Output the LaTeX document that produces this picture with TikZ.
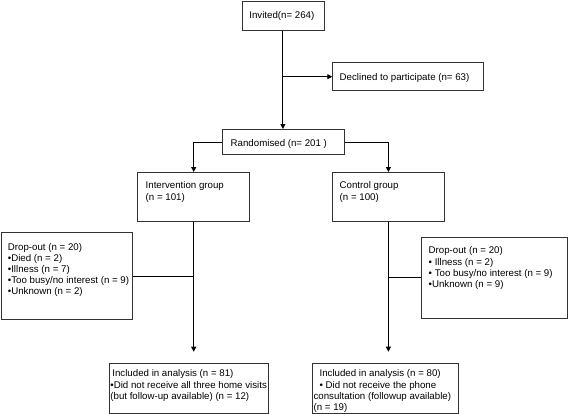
\documentclass[tikz,border=0pt]{standalone}
\usepackage{fontspec}
\setmainfont{Liberation Sans}
\usetikzlibrary{arrows.meta}

% box content: width, height, left pad, top pad, lines
\newcommand{\boxtxt}[5]{%
  \parbox[t][#2pt][t]{#1pt}{\vspace*{#4pt}\hspace*{#3pt}%
    \begin{tabular}[t]{@{}l@{}}#5\end{tabular}}}

\begin{document}
\begin{tikzpicture}[
  x=1pt, y=-1pt,
  % --- node styles ---
  box/.style={draw=black!80, line width=0.8pt, anchor=north west,
              inner sep=0pt, font=\fontsize{9.7}{11.2}\selectfont},
  % --- connector styles ---
  arr/.style={line width=1pt, -{Triangle[length=5pt,width=5pt]}},
  link/.style={line width=1pt},
]
  \useasboundingbox (0,0) rectangle (568,413);

  % --- Enrolment ---
  \node[box] (invited) at (241.5,0.5)
    {\boxtxt{82}{29.5}{7.5}{9.7}{Invited(n= 264)}};
  \node[box] (declined) at (332.3,62.3)
    {\boxtxt{150.4}{28}{7}{10}{Declined to participate (n= 63)}};
  \node[box] (randomised) at (222.3,129)
    {\boxtxt{122}{25.3}{8}{9.7}{Randomised (n= 201 )}};

  % --- Allocation ---
  \node[box] (intervention) at (137.3,172)
    {\boxtxt{112}{49}{8}{8.7}{Intervention group\\(n = 101)}};
  \node[box] (control) at (332.3,172)
    {\boxtxt{111.4}{49}{7}{8.7}{Control group\\(n = 100)}};

  % --- Follow-up (drop-outs) ---
  \node[box] (dropL) at (0.5,232.3)
    {\boxtxt{131.5}{87}{7}{9.5}{Drop-out (n = 20)\\
      •Died (n = 2)\\
      •Illness (n = 7)\\
      •Too busy/no interest (n = 9)\\
      •Unknown (n = 2)}};
  \node[box] (dropR) at (421,237.3)
    {\boxtxt{145.7}{80.4}{7.3}{8.4}{Drop-out (n = 20)\\
      • Illness (n = 2)\\
      • Too busy/no interest (n = 9)\\
      •Unknown (n = 9)}};

  % --- Analysis ---
  \node[box] (inclL) at (109,363.3)
    {\boxtxt{159.4}{49.5}{1}{5.4}{\hspace*{2pt}Included in analysis (n = 81)\\
      •Did not receive all three home visits\\
      (but follow-up available) (n = 12)}};
  \node[box] (inclR) at (311.7,363.3)
    {\boxtxt{146}{49.5}{1.5}{5.4}{\hspace*{6pt}Included in analysis (n = 80)\\
      \hspace*{6pt}• Did not receive the phone\\
      consultation (followup available)\\
      (n = 19)}};

  % --- Flow connectors ---
  \draw[arr] (invited.south) -- (invited.south |- randomised.north);
  \coordinate (split) at (invited.south |- declined.west);
  \draw[arr] (split) -- (declined.west);
  \draw[arr] (randomised.west) -| (intervention.north);
  \draw[arr] (randomised.east) -| (control.north);
  \draw[arr, shorten >=11.6pt] (intervention.south) -- (intervention.south |- inclL.north);
  \draw[arr, shorten >=11.6pt] (control.south) -- (control.south |- inclR.north);

  % --- Drop-out links ---
  \draw[link] (dropL.east) -- (dropL.east -| intervention.south);
  \draw[link] (dropR.west) -- (dropR.west -| control.south);
\end{tikzpicture}
\end{document}
